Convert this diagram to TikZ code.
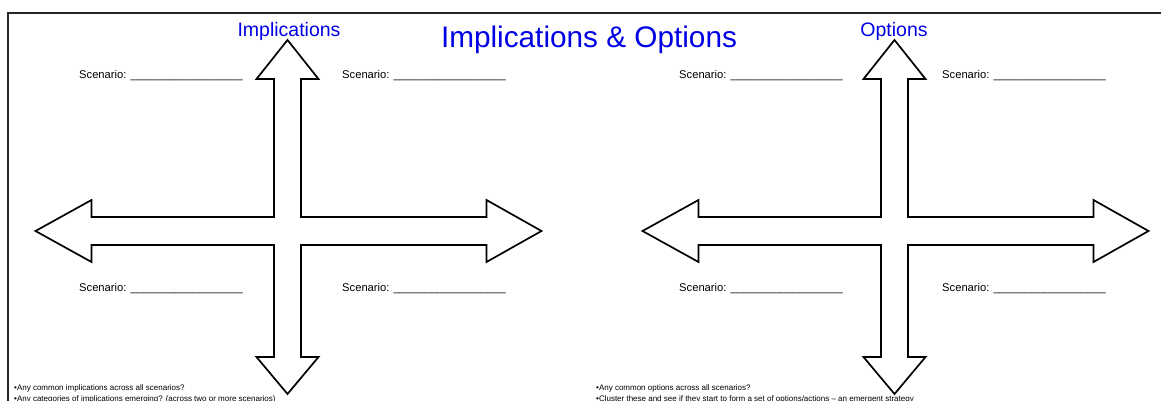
\documentclass[tikz,border=0pt]{standalone}
\usepackage{fontspec}
\setmainfont{Liberation Sans}
\definecolor{headblue}{RGB}{0,0,230}
\newcommand\scenblank{\_\_\_\_\_\_\_\_\_\_\_\_\_\_\_\_\_\_}
\tikzset{
  arrowline/.style={draw=black, fill=white, line width=1.7pt, line join=miter},
  frameline/.style={draw=black!85, line width=2pt},
  % four-way block arrow, origin at the crossing of the shafts
  quadarrow/.pic={
    \draw[arrowline]
      (-13.5,-14) -- (-13.5,-152) -- (-31,-152) -- (0,-191) -- (31,-152) -- (13.5,-152) -- (13.5,-14)
      -- (199,-14) -- (199,-31) -- (254,0) -- (199,31) -- (199,14) -- (13.5,14)
      -- (13.5,126) -- (31,126) -- (0,163) -- (-31,126) -- (-13.5,126) -- (-13.5,14)
      -- (-196,14) -- (-196,31) -- (-252,0) -- (-196,-31) -- (-196,-14) -- cycle;
  },
  scen/.style={anchor=base west, inner sep=0pt, font=\fontsize{11.2}{13}\selectfont},
  note/.style={anchor=base west, inner sep=0pt, font=\fontsize{8}{10}\selectfont},
  title/.style={anchor=base, inner sep=0pt, text=headblue, font=\fontsize{29.75}{34}\selectfont},
  subtitle/.style={anchor=base, inner sep=0pt, text=headblue, font=\fontsize{19.5}{23}\selectfont},
}
\begin{document}
\begin{tikzpicture}[x=1pt, y=-1pt]
  \useasboundingbox (0,0) rectangle (1161,401);

  % page frame: top rule and left edge
  \coordinate (frameBottom) at (8,402);
  \coordinate (frameCorner) at (8,13);
  \coordinate (frameRight) at (1162,13);
  \draw[frameline] (frameBottom) -- (frameCorner) -- (frameRight);

  % the two crosses
  \pic (crossL) at (287.5,231) {quadarrow};
  \pic (crossR) at (894.5,231) {quadarrow};

  % headings
  \node[title] (mainTitle) at (589,47.5) {Implications \& Options};
  \node[subtitle] (implHead) at (289,37) {Implications};
  \node[subtitle] (optHead) at (894,37) {Options};

  % scenario quadrants, left cross
  \node[scen] (scLtl) at (79,79) {Scenario: \scenblank};
  \node[scen] (scLtr) at (342,79) {Scenario: \scenblank};
  \node[scen] (scLbl) at (79,291) {Scenario: \scenblank};
  \node[scen] (scLbr) at (342,291) {Scenario: \scenblank};

  % scenario quadrants, right cross
  \node[scen] (scRtl) at (679,79) {Scenario: \scenblank};
  \node[scen] (scRtr) at (942,79) {Scenario: \scenblank};
  \node[scen] (scRbl) at (679,291) {Scenario: \scenblank};
  \node[scen] (scRbr) at (942,291) {Scenario: \scenblank};

  % prompts along the bottom
  \node[note] (noteL1) at (14,390.5) {•Any common implications across all scenarios?};
  \node[note] (noteL2) at (14,401) {•Any categories of implications emerging? (across two or more scenarios)};
  \node[note] (noteR1) at (596,390.5) {•Any common options across all scenarios?};
  \node[note] (noteR2) at (596,401) {•Cluster these and see if they start to form a set of options/actions – an emergent strategy};
\end{tikzpicture}
\end{document}
